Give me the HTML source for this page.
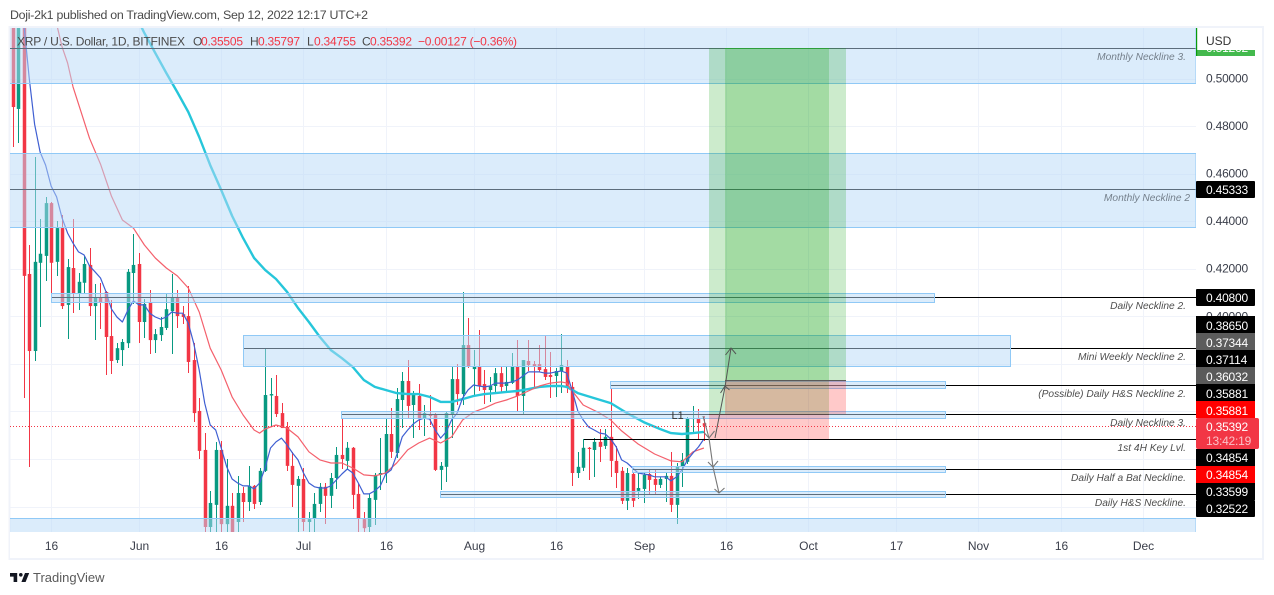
<!DOCTYPE html>
<html lang="en">
<head>
<meta charset="utf-8">
<title>XRP / U.S. Dollar chart</title>
<style>
html,body{margin:0;padding:0;background:#fff;}
svg{display:block;}
text{font-family:"Liberation Sans",sans-serif;}
.axl{font-size:12px;fill:#fff;letter-spacing:-.2px;}
.nl{font-size:10.2px;font-style:italic;fill:#4e4e4e;letter-spacing:0;text-anchor:end;}
.leg{font-size:12px;fill:#f23645;}
.legk{font-size:12px;fill:#4a4a4a;}
</style>
</head>
<body>
<svg xmlns="http://www.w3.org/2000/svg" width="1274" height="595" viewBox="0 0 1274 595">
  <defs>
    <clipPath id="plotClip"><rect x="10" y="28" width="1186" height="504"/></clipPath>
    <clipPath id="topLabelClip"><rect x="1196" y="50" width="60" height="6"/></clipPath>
  </defs>

  <text x="10" y="19" font-size="12.4" fill="#4a4a4a" textLength="358" lengthAdjust="spacing">Doji-2k1 published on TradingView.com, Sep 12, 2022 12:17 UTC+2</text>

  <rect x="9.5" y="27" width="1253.5" height="532" fill="#fff" stroke="#f0f3fa" stroke-width="2"/>

  <g id="gridLayer"></g>
  <g clip-path="url(#plotClip)">
    <g id="candleLayer"></g>
    <g id="maLayer"></g>

    <g stroke="#000" stroke-width="1" shape-rendering="crispEdges">
      <line x1="10" x2="1196" y1="48.5" y2="48.5"/>
      <line x1="10" x2="1196" y1="189.5" y2="189.5"/>
      <line x1="52" x2="1196" y1="297.5" y2="297.5"/>
      <line x1="244" x2="1196" y1="348.5" y2="348.5"/>
      <line x1="611" x2="1196" y1="385.5" y2="385.5"/>
      <line x1="342" x2="1196" y1="414.5" y2="414.5"/>
      <line x1="633" x2="1196" y1="469.5" y2="469.5"/>
      <line x1="441" x2="1196" y1="494.5" y2="494.5"/>
    </g>

    <g fill="rgba(183,217,247,.5)" stroke="#90c9f6" stroke-width="1" shape-rendering="crispEdges">
      <rect x="8" y="20" width="1188" height="63.5"/>
      <rect x="8" y="153.5" width="1188" height="74"/>
      <rect x="8" y="518.5" width="1188" height="20"/>
      <rect x="51.5" y="293.5" width="883" height="9"/>
      <rect x="243.5" y="335.5" width="767" height="31"/>
      <rect x="610.5" y="381.5" width="335" height="7"/>
      <rect x="341.5" y="411.5" width="604" height="7"/>
      <rect x="632.5" y="466.5" width="313" height="6"/>
      <rect x="440.5" y="491.5" width="505" height="6"/>
    </g>

    <line x1="584" x2="1196" y1="439.5" y2="439.5" stroke="#000" stroke-width="1" shape-rendering="crispEdges"/>

    <g shape-rendering="crispEdges">
      <rect x="709" y="48" width="120" height="366" fill="rgba(0,155,0,.2)"/>
      <rect x="725" y="48" width="121" height="333" fill="rgba(0,155,0,.2)"/>
      <rect x="725" y="381" width="121" height="33" fill="rgba(255,0,0,.21)"/>
      <rect x="709" y="414" width="120" height="25" fill="rgba(255,0,0,.21)"/>
      <line x1="725" x2="846" y1="380.5" y2="380.5" stroke="#5a5a5a"/>
      <line x1="709" x2="829" y1="414.5" y2="414.5" stroke="#5a4a4a"/>
      <line x1="725" x2="829" y1="48.5" y2="48.5" stroke="#2e9e3a"/>
    </g>

    <line x1="10" x2="1196" y1="426.5" y2="426.5" stroke="#f23645" stroke-width="1" stroke-dasharray="1 2" shape-rendering="crispEdges"/>

    <g fill="none" stroke="#555" stroke-width="1">
      <polyline points="715,438 725,387 731,348"/>
      <polyline points="720.5,393 725,386 729.5,390"/>
      <polyline points="725.5,355 731,348 736,354"/>
    </g>
    <g fill="none" stroke="#777" stroke-width="1.1">
      <polyline points="703,416 709,438 713,467 719,493"/>
      <polyline points="703.5,432 709,438 714.5,431"/>
      <polyline points="708,462 713,467 718,461"/>
      <polyline points="714.5,489 719,493 724.5,488"/>
    </g>

    <text x="671.5" y="419" font-size="11" fill="#333">L1</text>

    <g>
      <text class="nl" x="1186" y="60" style="fill:#75808c">Monthly Neckline 3.</text>
      <text class="nl" x="1190" y="201" style="fill:#75808c">Monthly Neckline 2</text>
      <text class="nl" x="1186" y="309">Daily Neckline 2.</text>
      <text class="nl" x="1186" y="360">Mini Weekly Neckline 2.</text>
      <text class="nl" x="1186" y="397">(Possible) Daily H&amp;S Neckline 2.</text>
      <text class="nl" x="1186" y="426">Daily Neckline 3.</text>
      <text class="nl" x="1186" y="451">1st 4H Key Lvl.</text>
      <text class="nl" x="1186" y="481">Daily Half a Bat Neckline.</text>
      <text class="nl" x="1186" y="506">Daily H&amp;S Neckline.</text>
    </g>
  </g>

  <g>
    <text x="17" y="45.5" font-size="12" fill="#4a4a4a" textLength="168" lengthAdjust="spacing">XRP / U.S. Dollar, 1D, BITFINEX</text>
    <text class="legk" x="193" y="45.5">O</text>
    <text class="leg" x="201" y="45.5" textLength="42">0.35505</text>
    <text class="legk" x="250" y="45.5">H</text>
    <text class="leg" x="258" y="45.5" textLength="42">0.35797</text>
    <text class="legk" x="307" y="45.5">L</text>
    <text class="leg" x="314" y="45.5" textLength="42">0.34755</text>
    <text class="legk" x="362" y="45.5">C</text>
    <text class="leg" x="370" y="45.5" textLength="42">0.35392</text>
    <text class="leg" x="418" y="45.5" textLength="99">−0.00127 (−0.36%)</text>
  </g>

  <rect x="1196" y="28" width="66" height="530" fill="#fff"/>
  <rect x="10" y="532" width="1186" height="26" fill="#fff"/>
  <g id="axisLayer"></g>

  <g>
    <rect x="1196" y="50" width="59" height="6" fill="#43b94d"/>
    <rect x="1196" y="28" width="1.2" height="28" fill="#0a9a0a"/>
    <text class="axl" x="1206" y="52" clip-path="url(#topLabelClip)">0.51262</text>
    <text x="1206" y="45" font-size="12" fill="#333">USD</text>

    <rect x="1196" y="181" width="59" height="17" fill="#000" rx="1"/>
    <text class="axl" x="1206" y="194">0.45333</text>

    <rect x="1196" y="289" width="59" height="17" fill="#000" rx="1"/>
    <text class="axl" x="1206" y="302">0.40800</text>
    <rect x="1196" y="316" width="59" height="17" fill="#000"/>
    <text class="axl" x="1206" y="330">0.38650</text>
    <rect x="1196" y="333" width="59" height="17" fill="#5c5c5c"/>
    <text class="axl" x="1206" y="347">0.37344</text>
    <rect x="1196" y="350" width="59" height="17" fill="#000"/>
    <text class="axl" x="1206" y="364">0.37114</text>
    <rect x="1196" y="367" width="59" height="17" fill="#5a5a5a"/>
    <text class="axl" x="1206" y="381">0.36032</text>
    <rect x="1196" y="384" width="59" height="17" fill="#000"/>
    <text class="axl" x="1206" y="398">0.35881</text>
    <rect x="1196" y="401" width="59" height="17" fill="#ff0000"/>
    <text class="axl" x="1206" y="415">0.35881</text>
    <rect x="1196" y="418" width="63" height="31" fill="#f23645" rx="2"/>
    <text class="axl" x="1206" y="431">0.35392</text>
    <text class="axl" x="1206" y="445" style="fill:#fbc0c6">13:42:19</text>
    <rect x="1196" y="449" width="59" height="17" fill="#000"/>
    <text class="axl" x="1206" y="462">0.34854</text>
    <rect x="1196" y="466" width="59" height="17" fill="#ff0000"/>
    <text class="axl" x="1206" y="479">0.34854</text>
    <rect x="1196" y="483" width="59" height="17" fill="#000"/>
    <text class="axl" x="1206" y="496">0.33599</text>
    <rect x="1196" y="500" width="59" height="17" fill="#000" rx="1"/>
    <text class="axl" x="1206" y="513">0.32522</text>
  </g>

  <g>
    <g transform="translate(8.8 569.4) scale(.6)" fill="#131722">
      <path d="M14 6H2v6h6v9h6V6zm14 15h-7l6-15h7l-6 15z"/>
      <circle cx="20" cy="9" r="3"/>
    </g>
    <text x="33" y="582" font-size="13" fill="#5a5a5a">TradingView</text>
  </g>

<script>
// Daily candles: index 0 is 9 May 2022, last is 12 Sep 2022
const opens = [.5301,.4872,.5246,.4178,.3854,.4225,.4254,.4476,.4229,.4371,.4048,.4203,.4098,.4141,.4216,.4043,.4081,.4102,.3917,.3816,.3858,.3887,.4182,.4220,.3976,.4056,.3900,.3921,.3951,.4022,.4081,.4009,.4001,.3816,.3602,.3438,.3114,.3207,.3438,.3126,.3203,.3135,.3257,.3219,.3287,.3219,.3350,.3667,.3665,.3593,.3534,.3371,.3287,.3316,.3135,.3151,.3211,.3283,.3245,.3320,.3417,.3392,.3447,.3253,.3147,.3114,.3228,.3333,.3341,.3505,.3425,.3648,.3728,.3627,.3665,.3572,.3589,.3589,.3354,.3367,.3589,.3736,.3673,.3879,.3778,.3787,.3715,.3690,.3707,.3761,.3707,.3720,.3787,.3665,.3812,.3799,.3799,.3778,.3753,.3749,.3770,.3791,.3703,.3341,.3363,.3447,.3438,.3472,.3455,.3493,.3392,.3350,.3224,.3337,.3266,.3274,.3337,.3316,.3291,.3316,.3329,.3207,.3367,.3388,.3568,.3572,.35505];
const highs = [.5330,.5330,.5330,.4300,.4670,.4409,.4502,.4480,.4401,.4426,.4241,.4409,.4182,.4254,.4287,.4136,.4141,.4107,.4069,.3887,.3904,.4199,.4346,.4267,.4073,.4111,.3946,.3997,.4094,.4178,.4111,.4043,.4128,.3887,.3656,.3509,.3266,.3472,.3476,.3400,.3257,.3329,.3283,.3371,.3291,.3363,.3866,.3740,.3753,.3635,.3555,.3430,.3329,.3363,.3177,.3257,.3299,.3299,.3341,.3451,.3568,.3472,.3451,.3295,.3177,.3253,.3341,.3488,.3568,.3614,.3698,.3766,.3816,.3686,.3715,.3627,.3669,.3593,.3388,.3597,.3787,.3799,.4102,.3993,.3858,.3942,.3774,.3745,.3782,.3787,.3787,.3845,.3900,.3816,.3900,.3812,.3879,.3917,.3850,.3782,.3925,.3816,.3724,.3430,.3484,.3451,.3488,.3526,.3526,.3698,.3455,.3367,.3363,.3341,.3341,.3341,.3358,.3358,.3325,.3341,.3430,.3384,.3425,.3576,.3623,.3610,.35797];
const lows = [.4712,.4729,.3656,.3367,.3812,.3955,.4149,.4098,.4170,.4030,.3904,.4014,.4026,.4098,.4001,.3900,.3946,.3753,.3757,.3803,.3791,.3866,.4052,.3887,.3909,.3841,.3845,.3896,.3942,.3841,.3951,.3967,.3761,.3555,.3400,.3038,.3038,.3059,.3038,.3080,.3038,.3080,.3135,.3181,.3190,.3207,.3346,.3539,.3576,.3530,.3350,.3199,.3059,.3097,.3080,.3080,.3177,.3126,.3194,.3274,.3358,.3354,.3190,.3080,.3080,.3059,.3122,.3270,.3299,.3405,.3405,.3530,.3572,.3488,.3522,.3497,.3543,.3350,.3270,.3304,.3488,.3627,.3627,.3782,.3669,.3686,.3631,.3640,.3682,.3682,.3682,.3715,.3597,.3589,.3770,.3698,.3766,.3732,.3656,.3661,.3677,.3677,.3287,.3320,.3350,.3312,.3325,.3388,.3442,.3325,.3278,.3211,.3185,.3199,.3232,.3215,.3253,.3249,.3278,.3219,.3177,.3126,.3283,.3379,.3514,.3484,.34755];
const closes = [.4880,.5288,.4170,.3854,.4229,.4263,.4476,.4225,.4371,.4043,.4207,.4098,.4145,.4220,.4043,.4077,.4060,.3913,.3812,.3866,.3892,.4187,.4216,.3976,.4052,.3900,.3925,.3955,.4030,.4077,.4001,.3997,.3808,.3593,.3434,.3114,.3215,.3438,.3126,.3203,.3059,.3257,.3219,.3287,.3211,.3350,.3669,.3673,.3589,.3530,.3371,.3291,.3316,.3135,.3147,.3211,.3283,.3245,.3320,.3417,.3400,.3447,.3249,.3151,.3109,.3236,.3333,.3341,.3505,.3430,.3652,.3728,.3623,.3669,.3572,.3593,.3581,.3354,.3371,.3593,.3736,.3673,.3879,.3791,.3787,.3707,.3690,.3707,.3761,.3703,.3724,.3787,.3665,.3816,.3795,.3791,.3774,.3745,.3745,.3770,.3795,.3698,.3341,.3367,.3447,.3442,.3472,.3451,.3493,.3392,.3341,.3224,.3341,.3224,.3278,.3333,.3312,.3291,.3316,.3329,.3207,.3367,.3396,.3568,.3572,.3551,.35392];

// Fast moving average: one value per candle starting at candle 2
const blueStartDay = 2;
const blueMa = [.5238,.5002,.4808,.4691,.4636,.4548,.4502,.4413,.4350,.4308,.4271,.4258,.4212,.4187,.4161,.4103,.4031,.3997,.3976,.4026,.4065,.4048,.4048,.4013,.3997,.3988,.3997,.4018,.4013,.4013,.3971,.3887,.3774,.3635,.3543,.3522,.3446,.3367,.3316,.3299,.3287,.3287,.3274,.3299,.3362,.3446,.3472,.3488,.3459,.3425,.3396,.3341,.3299,.3283,.3278,.3278,.3287,.3312,.3337,.3358,.3341,.3299,.3253,.3253,.3266,.3287,.3337,.3354,.3417,.3493,.3522,.3547,.3564,.3572,.3568,.3522,.3488,.3514,.3564,.3593,.3656,.3690,.3711,.3707,.3703,.3707,.3719,.3719,.3719,.3724,.3732,.3749,.3766,.3766,.3766,.3761,.3761,.3766,.3770,.3761,.3686,.3602,.3564,.3534,.3522,.3509,.3505,.3484,.3451,.3396,.3383,.3362,.3341,.3337,.3333,.3325,.3325,.3325,.3308,.3325,.3354,.3396,.3425,.3451,.3484];

// Medium moving average
const redDays = [8,9,10,11,12,13,14,16,18,20,22,24,26,28,30,32,34,36,38,40,42,44,45,46,48,50,52,54,56,58,60,62,64,66,68,70,72,74,76,78,80,82,84,86,88,90,92,94,96,98,100,101,102,104,107,109,111,114,117,120,122,124,126];
const redMa = [.5229,.5133,.5065,.4965,.4893,.4821,.4749,.4640,.4506,.4405,.4371,.4300,.4245,.4203,.4170,.4119,.4018,.3866,.3774,.3661,.3585,.3522,.3509,.3526,.3543,.3530,.3493,.3430,.3396,.3383,.3383,.3362,.3333,.3329,.3341,.3383,.3438,.3467,.3488,.3467,.3493,.3564,.3597,.3614,.3635,.3648,.3665,.3686,.3707,.3719,.3724,.3719,.3686,.3627,.3593,.3564,.3518,.3463,.3421,.3392,.3388,.3430,.3446];

// Slow moving average
const tealDays = [23,24,26,28,30,32,34,36,38,40,42,44,46,48,50,52,54,56,58,60,62,64,66,68,70,72,74,76,78,80,82,84,86,88,90,92,94,96,98,100,101,103,106,109,112,115,118,120,122,124,126];
const tealMa = [.5238,.5191,.5107,.5023,.4943,.4859,.4754,.4636,.4531,.4422,.4329,.4245,.4195,.4157,.4103,.4035,.3976,.3913,.3858,.3824,.3787,.3732,.3703,.3690,.3677,.3673,.3673,.3661,.3640,.3640,.3652,.3665,.3673,.3677,.3682,.3686,.3694,.3703,.3707,.3707,.3703,.3677,.3656,.3635,.3593,.3555,.3526,.3509,.3505,.3509,.3514];

// Axis ticks
const priceTicks = [.50,.48,.46,.44,.42,.40,.38,.36,.34,.32];
const priceTickLabels = ["0.50000","0.48000","0.46000","0.44000","0.42000","0.40000","","","",""];
const timeTickDays = [7,23,38,53,68,84,99,115,130,145,161,176,191,206];
const timeTickLabels = ["16","Jun","16","Jul","16","Aug","16","Sep","16","Oct","17","Nov","16","Dec"];

const SVG_NS = "http://www.w3.org/2000/svg";
function xScale(day){ return 12.7 + 5.486 * day; }
function yScale(price){ return 78.5 + (0.5 - price) * 2378; }
function mk(tag, parent){
  const el = document.createElementNS(SVG_NS, tag);
  parent.appendChild(el);
  return el;
}

const gridLayer = document.getElementById("gridLayer");
const axisLayer = document.getElementById("axisLayer");
priceTicks.forEach(function(p, i){
  const y = Math.round(yScale(p)) + 0.5;
  const g = mk("line", gridLayer);
  g.setAttribute("x1", 10); g.setAttribute("x2", 1196);
  g.setAttribute("y1", y); g.setAttribute("y2", y);
  g.setAttribute("stroke", "#f0f3fa");
  g.setAttribute("shape-rendering", "crispEdges");
  
  
  if (priceTickLabels[i]) {
    const t = mk("text", axisLayer);
    t.setAttribute("x", 1206);
    t.setAttribute("y", yScale(p) + 4);
    t.setAttribute("font-size", "12");
    t.setAttribute("fill", "#3a3e4a");
    t.setAttribute("letter-spacing", "-.2");
    t.textContent = priceTickLabels[i];
    
    
  }
});
timeTickDays.forEach(function(d, i){
  const x = Math.round(xScale(d)) + 0.5;
  const g = mk("line", gridLayer);
  g.setAttribute("x1", x); g.setAttribute("x2", x);
  g.setAttribute("y1", 28); g.setAttribute("y2", 532);
  g.setAttribute("stroke", "#f0f3fa");
  g.setAttribute("shape-rendering", "crispEdges");
  
  
  const t = mk("text", axisLayer);
  t.setAttribute("x", x);
  t.setAttribute("y", 550);
  t.setAttribute("font-size", "12");
  t.setAttribute("fill", "#3a3e4a");
  t.setAttribute("text-anchor", "middle");
  t.textContent = timeTickLabels[i];
  
  
});

const candleLayer = document.getElementById("candleLayer");
opens.forEach(function(o, i){
  const c = closes[i];
  const color = c >= o ? "#089981" : "#f23645";
  const x = Math.round(xScale(i));
  const wick = mk("rect", candleLayer);
  wick.setAttribute("x", x);
  wick.setAttribute("width", 1);
  wick.setAttribute("y", yScale(highs[i]));
  wick.setAttribute("height", yScale(lows[i]) - yScale(highs[i]));
  wick.setAttribute("fill", color);
  wick.setAttribute("shape-rendering", "crispEdges");
  
  
  const body = mk("rect", candleLayer);
  const top = yScale(Math.max(o, c));
  body.setAttribute("x", x - 1.25);
  body.setAttribute("width", 3.5);
  body.setAttribute("y", top);
  body.setAttribute("height", Math.max(1, yScale(Math.min(o, c)) - top));
  body.setAttribute("fill", color);
  
  
});

const maLayer = document.getElementById("maLayer");
function drawLine(days, values, color, width){
  const pts = values.map(function(v, i){
    return xScale(days[i]).toFixed(1) + "," + yScale(v).toFixed(1);
  }).join(" ");
  const line = mk("polyline", maLayer);
  line.setAttribute("points", pts);
  line.setAttribute("fill", "none");
  line.setAttribute("stroke", color);
  line.setAttribute("stroke-width", width);
  line.setAttribute("stroke-linejoin", "round");
  return line;
}
const tealLine = drawLine(tealDays, tealMa, "#26c6da", 2.4);


const redLine = drawLine(redDays, redMa, "#f4606c", 1.2);


const blueLine = drawLine(blueMa.map(function(v, i){ return blueStartDay + i; }), blueMa, "#3f5fd2", 1.2);


</script>
</svg>
</body>
</html>
